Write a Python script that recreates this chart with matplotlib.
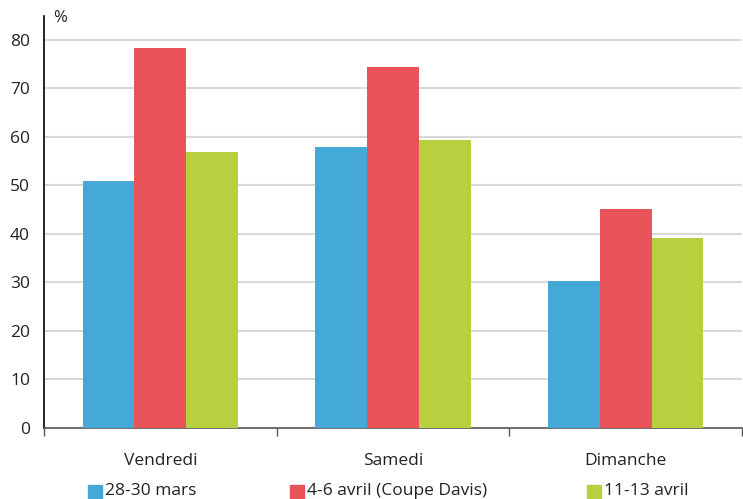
import matplotlib
matplotlib.use("Agg")
import matplotlib.pyplot as plt
import numpy as np

categories = ["Vendredi", "Samedi", "Dimanche"]
series_names = ["28-30 mars", "4-6 avril (Coupe Davis)", "11-13 avril"]
mars = [50.9, 57.9, 30.3]
avril_davis = [78.3, 74.5, 45.2]
avril_13 = [56.8, 59.4, 39.2]
yticks = [0, 10, 20, 30, 40, 50, 60, 70, 80]

colors = ["#45A9D8", "#E9535A", "#B8CF40"]
plt.rcParams['font.family'] = ['Open Sans', 'DejaVu Sans']

fig = plt.figure(figsize=(7.43, 4.99), dpi=100)
ax = fig.add_axes([44/743, 1-428/499, 698/743, (428-15.7)/499])

x = np.arange(len(categories))
w = 0.223
handles = []
for i, (vals, c, name) in enumerate(zip([mars, avril_davis, avril_13], colors, series_names)):
    h = ax.bar(x + (i-1)*w, vals, width=w, color=c, label=name, zorder=3)
    handles.append(h)

ax.set_xlim(-0.5, 2.5)
ax.set_ylim(0, 85)
ax.set_yticks(yticks)
ax.set_yticklabels([str(t) for t in yticks], fontsize=12.5, color="#222222")
ax.tick_params(axis='y', length=0, pad=10)
ax.set_xticks(x)
ax.set_xticklabels(categories, fontsize=12.5, color="#222222")
ax.tick_params(axis='x', length=0, pad=18)
ax.set_xticks([-0.5, 0.5, 1.5, 2.5], minor=True)
ax.tick_params(axis='x', which='minor', length=6, color="#555555", width=1)
for t in yticks[1:]:
    ax.axhline(t, color="#d9d9d9", lw=1.5, zorder=1)
for s in ["top", "right"]:
    ax.spines[s].set_visible(False)
ax.spines["left"].set_color("black")
ax.spines["left"].set_linewidth(1.2)
ax.spines["bottom"].set_color("#555555")
ax.spines["bottom"].set_linewidth(1.2)

fig.text(60/743, 1-18/499, "%", fontsize=12, ha="center", va="center", color="#222222")

positions = [88, 290, 587]
for h, name, c, px in zip(handles, series_names, colors, positions):
    fig.patches.append(plt.Rectangle((px/743, 1-499/499), 14/743, 14/499, transform=fig.transFigure, color=c, figure=fig))
    fig.text((px+17)/743, 1-491/499, name, fontsize=12.5, va="center", ha="left", color="#222222")

fig.savefig("out.png", dpi=100)
